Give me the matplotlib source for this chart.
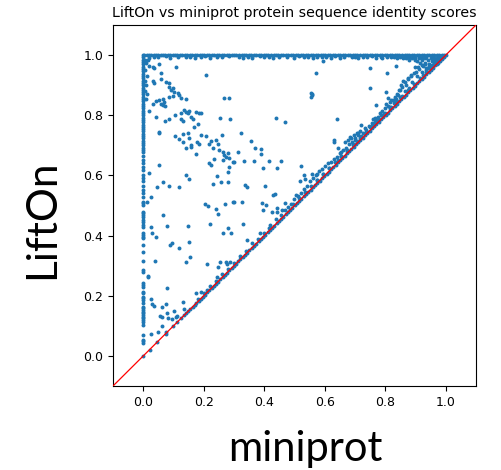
import matplotlib
matplotlib.use("Agg")
import matplotlib.pyplot as plt
import numpy as np

# ---- data ----
# scores of 1.0 for LiftOn (top band)
top_x = [0.003,0.011,0.018,0.026,0.035,0.041,0.049,0.058,0.066,0.073,0.081,0.090,0.097,0.105,0.113,0.121,
         0.129,0.138,0.146,0.153,0.161,0.170,0.178,0.186,0.194,0.202,0.210,0.219,0.227,0.235,0.243,0.251,
         0.259,0.268,0.276,0.284,0.292,0.300,0.308,0.316,0.325,0.333,0.341,0.349,0.357,0.365,0.374,0.382,
         0.390,0.398,0.406,0.414,0.423,0.431,0.439,0.447,0.455,0.463,0.472,0.480,0.488,0.496,0.504,0.512,
         0.521,0.529,0.537,0.545,0.553,0.561,0.570,0.578,0.586,0.594,0.602,0.610,0.619,0.627,0.635,0.643,
         0.651,0.659,0.668,0.676,0.684,0.692,0.700,0.708,0.717,0.725,0.733,0.741,0.749,0.757,0.766,0.774,
         0.782,0.790,0.798,0.806,0.815,0.823,0.831,0.839,0.847,0.855,0.864,0.872,0.880,0.888,0.896,0.904,
         0.913,0.921,0.929,0.937,0.945,0.953,0.962,0.970,0.978,0.986,0.994,1.000]
top_y = [1.0] * len(top_x)

# points just under the top band
dip_x = [0.02,0.05,0.09,0.14,0.17,0.19,0.22,0.26,0.33,0.36,0.40,0.43,0.45,0.50,0.53,0.56,0.59,0.62,
         0.65,0.69,0.71,0.74,0.77,0.79,0.82,0.84,0.86,0.88,0.90,0.92,0.016,0.006,0.010,0.005,0.012,
         0.007,0.010,0.006,0.012,0.008,
         0.035,0.075,0.115,0.155,0.205,0.245,0.285,0.315,0.345,0.385,0.415,0.475,0.515,0.545,0.575,
         0.605,0.635,0.665,0.700,0.725,0.755,0.785,0.805,0.830,0.850,0.870,0.895,0.910,0.935,0.955]
dip_y = [0.991,0.993,0.990,0.992,0.991,0.993,0.990,0.992,0.991,0.990,0.993,0.991,0.992,0.990,0.993,
         0.991,0.992,0.990,0.991,0.993,0.990,0.992,0.991,0.990,0.992,0.991,0.990,0.993,0.991,0.990,
         0.985,0.985,0.975,0.950,0.930,0.915,0.900,0.880,0.870,0.855,
         0.995,0.996,0.995,0.994,0.996,0.995,0.996,0.994,0.995,0.996,0.995,0.994,0.996,0.995,0.994,
         0.995,0.996,0.995,0.994,0.995,0.996,0.994,0.995,0.993,0.994,0.992,0.993,0.994,0.992,0.993]

# miniprot score of 0 (left column)
left_y = [1.000,0.992,0.985,0.977,0.969,0.962,0.954,0.946,0.938,0.931,0.923,0.915,0.908,0.900,0.892,
          0.885,0.877,0.869,0.861,0.854,0.846,0.838,0.831,0.823,0.815,0.808,0.800,0.792,0.784,0.777,
          0.769,0.761,0.754,0.746,0.738,0.731,0.723,0.715,0.707,0.700,0.692,0.684,0.677,0.664,0.652,
          0.641,0.628,0.617,0.603,0.592,0.581,0.566,0.553,0.541,0.528,0.513,0.507,0.502,0.479,0.474,
          0.468,0.463,0.452,0.446,0.435,0.430,0.408,0.402,0.396,0.391,0.369,0.347,0.316,0.286,0.280,
          0.244,0.236,0.230,0.214,0.208,0.197,0.192,0.186,0.175,0.164,0.158,0.153,0.147,0.142,0.136,
          0.131,0.125,0.120,0.114,0.103,0.070,0.053,0.048,0.042]
left_x = [0.0] * len(left_y)

# identical scores (on the diagonal)
diag_v = [0.000,0.021,0.046,0.074,0.099,0.113,0.126,0.135,0.142,0.149,0.156,0.163,0.170,0.176,0.183,
          0.190,0.197,0.204,0.212,0.219,0.226,0.233,0.240,0.247,0.255,0.262,0.270,0.277,0.284,0.292,
          0.299,0.306,0.314,0.321,0.329,0.336,0.343,0.351,0.358,0.366,0.373,0.381,0.388,0.396,0.403,
          0.411,0.418,0.426,0.433,0.441,0.448,0.456,0.463,0.471,0.478,0.486,0.493,0.501,0.508,0.516,
          0.523,0.531,0.538,0.546,0.553,0.561,0.568,0.576,0.583,0.591,0.598,0.606,0.613,0.621,0.628,
          0.636,0.643,0.651,0.658,0.666,0.673,0.681,0.688,0.696,0.703,0.711,0.718,0.726,0.733,0.741,
          0.748,0.756,0.763,0.771,0.778,0.786,0.793,0.801,0.808,0.816,0.823,0.831,0.838,0.846,0.853,
          0.861,0.868,0.876,0.883,0.891,0.898,0.906,0.913,0.921,0.928,0.936,0.943,0.951,0.958,0.966,
          0.973,0.981,0.988,0.995]

# slightly above the diagonal
near_x = [0.95,0.96,0.97,0.98,0.99,0.93,0.94,0.955,0.965,0.975,0.985,0.92,0.91,0.90,0.89,0.93,0.945,
          0.96,0.97,0.95,0.94,0.925,0.915,0.905,0.88,0.87,0.86,0.935,0.92,0.91,0.90,0.895,0.885,0.905,
          0.925,0.875,0.86,0.89,0.87,0.855,0.88,0.845,0.865,0.84,0.85,0.835,0.825,0.815,0.83,0.81,0.80,
          0.82,0.79,0.80,0.785,0.775,0.765,0.77,0.755,0.76,0.745,0.75,0.735,0.74,0.725,0.71,0.72,0.70,
          0.705,0.69,0.68,0.695,0.67,0.66,0.675,0.65,0.655,0.64,0.63,0.645,0.62,0.61,0.60,0.615,0.59,
          0.58,0.595,0.57,0.56,0.575,0.55,0.54,0.53,0.52,0.51,0.50,0.49,0.48,0.47,0.455,0.44,0.42,0.40,
          0.38,0.36,0.34,0.32,0.30,0.28,0.26,0.24,0.22,0.20,0.18,
          0.629,0.632,0.643,0.654,0.666,0.677,0.682,0.688,0.696,0.699,0.708,0.715,0.809,0.820,0.804,
          0.815,0.831,0.842,0.853,0.864,0.875,0.886,0.903,0.908,0.920,0.930,0.936,0.781,0.759,0.765,
          0.848,0.721,0.732,0.710,
          0.965,0.975,0.985,0.945,0.955,0.935,0.915,0.895,0.875,0.855,0.835,0.815,0.795,0.775,0.755,
          0.735,0.715,0.695,0.675,0.655,0.635,0.615,0.595,0.575,0.555,0.535,0.515,0.495]
near_y = [0.99,0.99,0.99,0.99,0.995,0.99,0.985,0.98,0.985,0.98,0.99,0.985,0.99,0.985,0.99,0.975,0.97,
          0.975,0.972,0.96,0.958,0.965,0.975,0.98,0.985,0.99,0.992,0.95,0.945,0.955,0.96,0.94,0.93,0.93,
          0.935,0.925,0.915,0.91,0.90,0.895,0.89,0.885,0.88,0.87,0.86,0.855,0.85,0.845,0.84,0.83,0.825,
          0.828,0.815,0.808,0.80,0.795,0.79,0.78,0.775,0.77,0.765,0.76,0.75,0.745,0.74,0.735,0.73,0.725,
          0.715,0.71,0.705,0.70,0.69,0.685,0.68,0.675,0.665,0.66,0.655,0.65,0.645,0.64,0.63,0.625,0.62,
          0.615,0.605,0.60,0.59,0.585,0.58,0.565,0.555,0.54,0.53,0.52,0.505,0.495,0.485,0.47,0.455,
          0.435,0.41,0.39,0.375,0.35,0.333,0.31,0.29,0.272,0.25,0.232,0.21,0.19,
          0.718,0.712,0.690,0.678,0.712,0.718,0.729,0.723,0.734,0.718,0.740,0.746,0.856,0.851,0.839,
          0.828,0.862,0.867,0.900,0.912,0.922,0.934,0.945,0.961,0.967,0.972,0.956,0.806,0.789,0.778,
          0.884,0.767,0.756,0.740,
          0.978,0.988,0.995,0.965,0.968,0.945,0.925,0.905,0.885,0.865,0.845,0.825,0.805,0.785,0.765,
          0.745,0.725,0.705,0.685,0.665,0.645,0.625,0.605,0.585,0.565,0.545,0.525,0.505]

# scattered points inside the triangle
mid_x = [0.020,0.031,0.036,0.053,0.108,0.059,0.031,0.036,0.059,0.075,0.086,0.086,0.092,0.097,0.103,
         0.114,0.119,0.086,0.097,0.125,0.141,0.208,0.268,0.283,0.042,0.053,0.064,0.070,0.059,0.064,
         0.073,0.031,0.020,0.042,0.073,0.086,0.105,0.125,0.136,0.141,0.152,0.147,0.125,0.130,0.158,
         0.163,0.175,0.185,0.191,0.169,0.180,0.053,0.053,0.106,0.119,0.130,0.130,0.147,0.152,0.141,
         0.158,0.175,0.158,0.178,0.185,0.191,0.208,0.219,0.230,0.224,0.252,0.263,0.268,0.274,0.279,
         0.285,0.296,0.301,0.263,0.285,0.259,0.219,0.224,0.233,0.241,0.246,0.287,0.254,0.323,0.312,
         0.334,0.356,0.368,0.390,0.390,0.365,0.395,0.415,0.441,0.456,0.439,0.467,0.051,0.020,0.141,
         0.152,0.064,0.047,0.086,0.119,0.244,0.279,0.230,0.257,0.281,0.338,0.342,0.404,0.428,0.436,
         0.025,0.522,0.531,0.536,0.517,0.557,0.575,0.505,0.594,0.570,0.555,0.557,0.555,0.558,0.640,
         0.301,0.326,0.392,0.406,0.469,0.395,0.425,0.441,0.441,0.458,0.329,0.386,0.342,0.415,0.420,
         0.748,0.806,0.837,0.748,0.801,0.768,0.013,0.066,0.077,0.024,0.030,0.041,0.039,0.016,0.017,
         0.077,0.096,0.090,0.118,0.149,0.151,0.153,0.140,0.203,0.214,0.239,0.246,0.269,0.298,0.221,
         0.262,0.280,0.291,0.210,0.253,0.273,0.286,0.278,0.247,0.174,0.190,0.210,0.243,0.024,0.030,
         0.037,0.061,0.074,0.079,0.057,0.061,0.083,0.094,0.102,0.107,0.111,0.132,0.135,0.027,0.050,
         0.061,0.074]
mid_y = [0.963,0.960,0.957,0.969,0.962,0.942,0.913,0.908,0.922,0.911,0.906,0.895,0.884,0.889,0.878,
         0.873,0.867,0.862,0.864,0.856,0.854,0.934,0.856,0.859,0.848,0.850,0.854,0.845,0.839,0.834,
         0.831,0.837,0.814,0.795,0.781,0.787,0.801,0.806,0.817,0.812,0.815,0.806,0.787,0.782,0.795,
         0.786,0.812,0.806,0.808,0.762,0.770,0.745,0.740,0.731,0.720,0.738,0.712,0.740,0.723,0.692,
         0.695,0.670,0.701,0.712,0.704,0.734,0.732,0.706,0.690,0.715,0.684,0.678,0.668,0.662,0.673,
         0.657,0.646,0.643,0.651,0.629,0.734,0.640,0.635,0.656,0.718,0.704,0.789,0.792,0.740,0.678,
         0.649,0.715,0.692,0.688,0.671,0.648,0.626,0.649,0.626,0.648,0.792,0.778,0.633,0.607,0.601,
         0.588,0.577,0.563,0.566,0.563,0.598,0.612,0.571,0.577,0.578,0.568,0.561,0.565,0.535,0.538,
         0.529,0.632,0.603,0.588,0.583,0.605,0.605,0.535,0.980,0.941,0.873,0.867,0.862,0.870,0.789,
         0.512,0.512,0.509,0.502,0.507,0.485,0.477,0.491,0.479,0.485,0.439,0.408,0.386,0.424,0.424,
         0.956,0.941,0.963,0.889,0.878,0.834,0.512,0.470,0.432,0.427,0.410,0.394,0.316,0.266,0.261,
         0.225,0.376,0.369,0.358,0.432,0.380,0.330,0.313,0.504,0.497,0.488,0.471,0.504,0.510,0.437,
         0.408,0.424,0.408,0.304,0.313,0.313,0.313,0.304,0.297,0.208,0.214,0.219,0.261,0.189,0.172,
         0.166,0.164,0.172,0.142,0.133,0.129,0.126,0.123,0.150,0.128,0.133,0.178,0.155,0.073,0.079,
         0.098,0.078]

ticks = [0.0, 0.2, 0.4, 0.6, 0.8, 1.0]
tick_labels = ["0.0", "0.2", "0.4", "0.6", "0.8", "1.0"]

# ---- plot ----
fig = plt.figure(figsize=(5.02, 4.70), dpi=100)
ax = fig.add_axes([113 / 502, 84 / 470, 363 / 502, 361 / 470])

xs = np.concatenate([top_x, dip_x, left_x, diag_v, near_x, mid_x])
ys = np.concatenate([top_y, dip_y, left_y, diag_v, near_y, mid_y])
ax.scatter(xs, ys, s=8, color="#1f77b4", linewidths=0, zorder=2)

ax.plot([-0.1, 1.1], [-0.1, 1.1], color="red", linewidth=0.9, zorder=3)

ax.set_xlim(-0.1, 1.1)
ax.set_ylim(-0.1, 1.1)
ax.set_xticks(ticks)
ax.set_xticklabels(tick_labels)
ax.set_yticks(ticks)
ax.set_yticklabels(tick_labels)
ax.tick_params(labelsize=9)
ax.set_title("LiftOn vs miniprot protein sequence identity scores", fontsize=10.3)

fig.text(305 / 502, (470 - 461) / 470, "miniprot", family="Lato", fontsize=30,
         ha="center", va="baseline")
fig.text(61 / 502, (470 - 219) / 470, "LiftOn", family="Lato", fontsize=30.5,
         rotation=90, ha="right", va="center")

fig.savefig("out.png", dpi=100)
